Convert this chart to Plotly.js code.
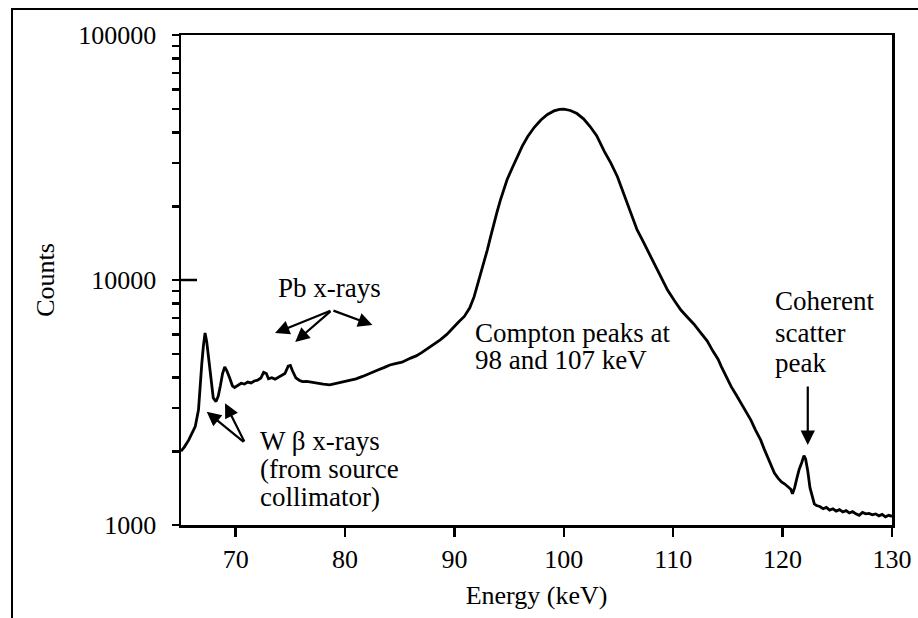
<!DOCTYPE html>
<html><head><meta charset="utf-8">
<script src="https://cdn.plot.ly/plotly-3.0.1.min.js"></script>
<style>
html,body{margin:0;padding:0;background:#fff;}
#wrap{position:relative;width:918px;height:618px;overflow:hidden;}
#chart{width:918px;height:618px;}
#frame{position:absolute;left:11px;top:8px;right:-4px;bottom:-4px;border-left:2px solid #000;border-top:2px solid #000;pointer-events:none;}
</style></head><body>
<div id="wrap"><div id="chart"></div><div id="frame"></div></div>
<script>
// Spectrum (Energy in keV, Counts)
const energy = [
  65.0, 65.3, 65.7, 66.0, 66.3, 66.6, 66.75, 66.9, 67.05, 67.2, 67.35, 67.5, 67.7, 67.95, 68.2, 68.4, 68.6, 68.8, 69.0, 69.2,
  69.45, 69.7, 69.9, 70.2, 70.5, 70.8, 71.1, 71.4, 71.7, 72.0, 72.3, 72.55, 72.8, 73.0, 73.3, 73.6, 73.9, 74.2, 74.5, 74.8,
  75.0, 75.2, 75.5, 75.8, 76.1, 76.5, 77.0, 77.5, 78.0, 78.6, 79.2, 79.8, 80.5, 81.0, 81.6, 82.3, 83.0, 83.6, 84.1, 84.6,
  85.2, 86.0, 86.5, 87.0, 87.8, 88.3, 88.7, 89.3, 89.9, 90.4, 90.9, 91.4, 91.8, 92.1, 92.4, 92.7, 93.0, 93.3, 93.6, 93.9,
  94.2, 94.5, 94.8, 95.3, 95.75, 96.2, 96.7, 97.3, 97.9, 98.5, 99.1, 99.6, 100.0, 100.6, 101.2, 101.8, 102.4, 103.0, 103.7, 104.3,
  104.9, 105.35, 105.8, 106.25, 106.7, 107.2, 107.65, 108.1, 108.56, 109.0, 109.48, 110.1, 110.7, 111.3, 111.9, 112.5, 113.1, 113.6, 114.1, 114.4,
  114.8, 115.3, 115.75, 116.2, 116.6, 117.1, 117.5, 118.0, 118.3, 118.6, 118.9, 119.25, 119.6, 119.9, 120.2, 120.5, 120.75, 120.9, 121.1, 121.3,
  121.5, 121.75, 121.95, 122.1, 122.3, 122.5, 122.7, 122.9, 123.1, 123.4, 123.7, 124.0, 124.3, 124.6, 124.9, 125.2, 125.5, 125.8, 126.1, 126.4,
  126.7, 127.0, 127.3, 127.6, 127.9, 128.2, 128.5, 128.8, 129.1, 129.4, 129.7, 130.0
];
const counts = [
  2000, 2080, 2220, 2350, 2520, 2950, 3800, 4550, 5400, 6080, 5600, 4900, 4200, 3300, 3190, 3350, 3700, 4150, 4420, 4250,
  3980, 3700, 3640, 3720, 3790, 3760, 3830, 3800, 3870, 3900, 3980, 4200, 4150, 3950, 3990, 3940, 4010, 4060, 4150, 4450,
  4480, 4250, 3990, 3900, 3850, 3860, 3820, 3780, 3760, 3730, 3780, 3820, 3900, 3950, 4040, 4150, 4290, 4400, 4500, 4560,
  4620, 4800, 4900, 5050, 5340, 5520, 5700, 6000, 6430, 6750, 7100, 7700, 8550, 9500, 10650, 11900, 13250, 15000, 17000, 19000,
  21200, 23400, 25600, 28800, 31900, 35200, 38500, 42000, 45000, 47400, 49000, 49700, 49800, 49200, 47800, 45500, 42300, 38800, 33500, 30000,
  26400, 23300, 20600, 18100, 16000, 14500, 13250, 12000, 11000, 10000, 9100, 8250, 7540, 7050, 6600, 6100, 5650, 5150, 4750, 4430,
  4050, 3670, 3400, 3140, 2900, 2680, 2450, 2220, 2050, 1900, 1760, 1630, 1550, 1500, 1470, 1430, 1400, 1340, 1420, 1550,
  1680, 1800, 1920, 1860, 1660, 1420, 1300, 1220, 1200, 1190, 1165, 1180, 1150, 1165, 1140, 1155, 1130, 1145, 1120, 1135,
  1110, 1095, 1125, 1110, 1115, 1100, 1110, 1090, 1105, 1080, 1095, 1085
];
const xTickVals = [70, 80, 90, 100, 110, 120, 130];
const yTickVals = [1000, 2000, 3000, 4000, 5000, 6000, 7000, 8000, 9000,
                   10000, 20000, 30000, 40000, 50000, 60000, 70000, 80000, 90000, 100000];
const yTickText = ['1000', '', '', '', '', '', '', '', '',
                   '10000', '', '', '', '', '', '', '', '', '100000'];

const FONT = 'Liberation Serif, DejaVu Serif, serif';
const L = Math.log10;

function textAnn(text, x, y, xanchor) {
  return {text: text, x: x, y: L(y), xref: 'x', yref: 'y', xanchor: xanchor || 'left', yanchor: 'middle',
          showarrow: false, font: {family: FONT, size: 27, color: '#000'}};
}
function arrowAnn(hx, hy, tx, ty) {
  return {text: '', x: hx, y: L(hy), ax: tx, ay: L(ty), xref: 'x', yref: 'y', axref: 'x', ayref: 'y',
          showarrow: true, arrowhead: 2, arrowsize: 1.3, arrowwidth: 2.2, arrowcolor: '#000', standoff: 0, startstandoff: 0};
}

const annotations = [
  textAnn('Pb x-rays', 78.55, 9270, 'center'),
  arrowAnn(73.6, 6070, 78.8, 7540),
  arrowAnn(75.44, 5585, 78.8, 7540),
  arrowAnn(82.5, 6550, 78.8, 7540),
  textAnn('W β x-rays', 72.05, 2203),
  textAnn('(from source', 72.05, 1694),
  textAnn('collimator)', 72.05, 1300),
  arrowAnn(67.35, 2901, 70.86, 2161),
  arrowAnn(69.03, 3139, 70.86, 2161),
  textAnn('Compton peaks at', 91.74, 6080),
  textAnn('98 and 107 keV', 91.74, 4710),
  textAnn('Coherent', 119.12, 8200),
  textAnn('scatter', 119.12, 6080),
  textAnn('peak', 119.12, 4580),
  arrowAnn(122.3, 2123, 122.3, 3724)
];

const trace = {
  x: energy, y: counts, type: 'scatter', mode: 'lines',
  line: {color: '#000', width: 2.8}, hoverinfo: 'skip'
};

const layout = {
  width: 918, height: 618,
  margin: {l: 181, r: 26, t: 35, b: 93},
  paper_bgcolor: '#fff', plot_bgcolor: '#fff',
  showlegend: false,
  font: {family: FONT, size: 26, color: '#000'},
  xaxis: {
    range: [65, 130], showgrid: false, zeroline: false,
    showline: true, linecolor: '#000', linewidth: 2.5, mirror: true,
    tickmode: 'array', tickvals: xTickVals, ticks: 'outside', ticklen: 9, tickwidth: 2.5, tickcolor: '#000',
    ticklabelstandoff: 0,
    tickfont: {family: FONT, size: 26, color: '#000'},
    title: {text: 'Energy (keV)', font: {family: FONT, size: 26, color: '#000'}, standoff: 13}
  },
  yaxis: {
    type: 'log', range: [3, 5], showgrid: false, zeroline: false,
    showline: true, linecolor: '#000', linewidth: 2.5, mirror: true,
    tickmode: 'array', tickvals: yTickVals, ticktext: yTickText,
    ticks: 'outside', ticklen: 7, tickwidth: 2.5, tickcolor: '#000',
    ticklabelstandoff: 10,
    tickfont: {family: FONT, size: 26, color: '#000'},
    title: {text: 'Counts', font: {family: FONT, size: 26, color: '#000'}, standoff: 16}
  },
  shapes: [
    {type: 'line', xref: 'x', yref: 'y', xsizemode: 'pixel', xanchor: 65, x0: 0, x1: 16,
     y0: 10000, y1: 10000, line: {color: '#000', width: 2.5}}
  ],
  annotations: annotations
};

Plotly.newPlot('chart', [trace], layout, {staticPlot: true, displayModeBar: false});
</script>
</body></html>
